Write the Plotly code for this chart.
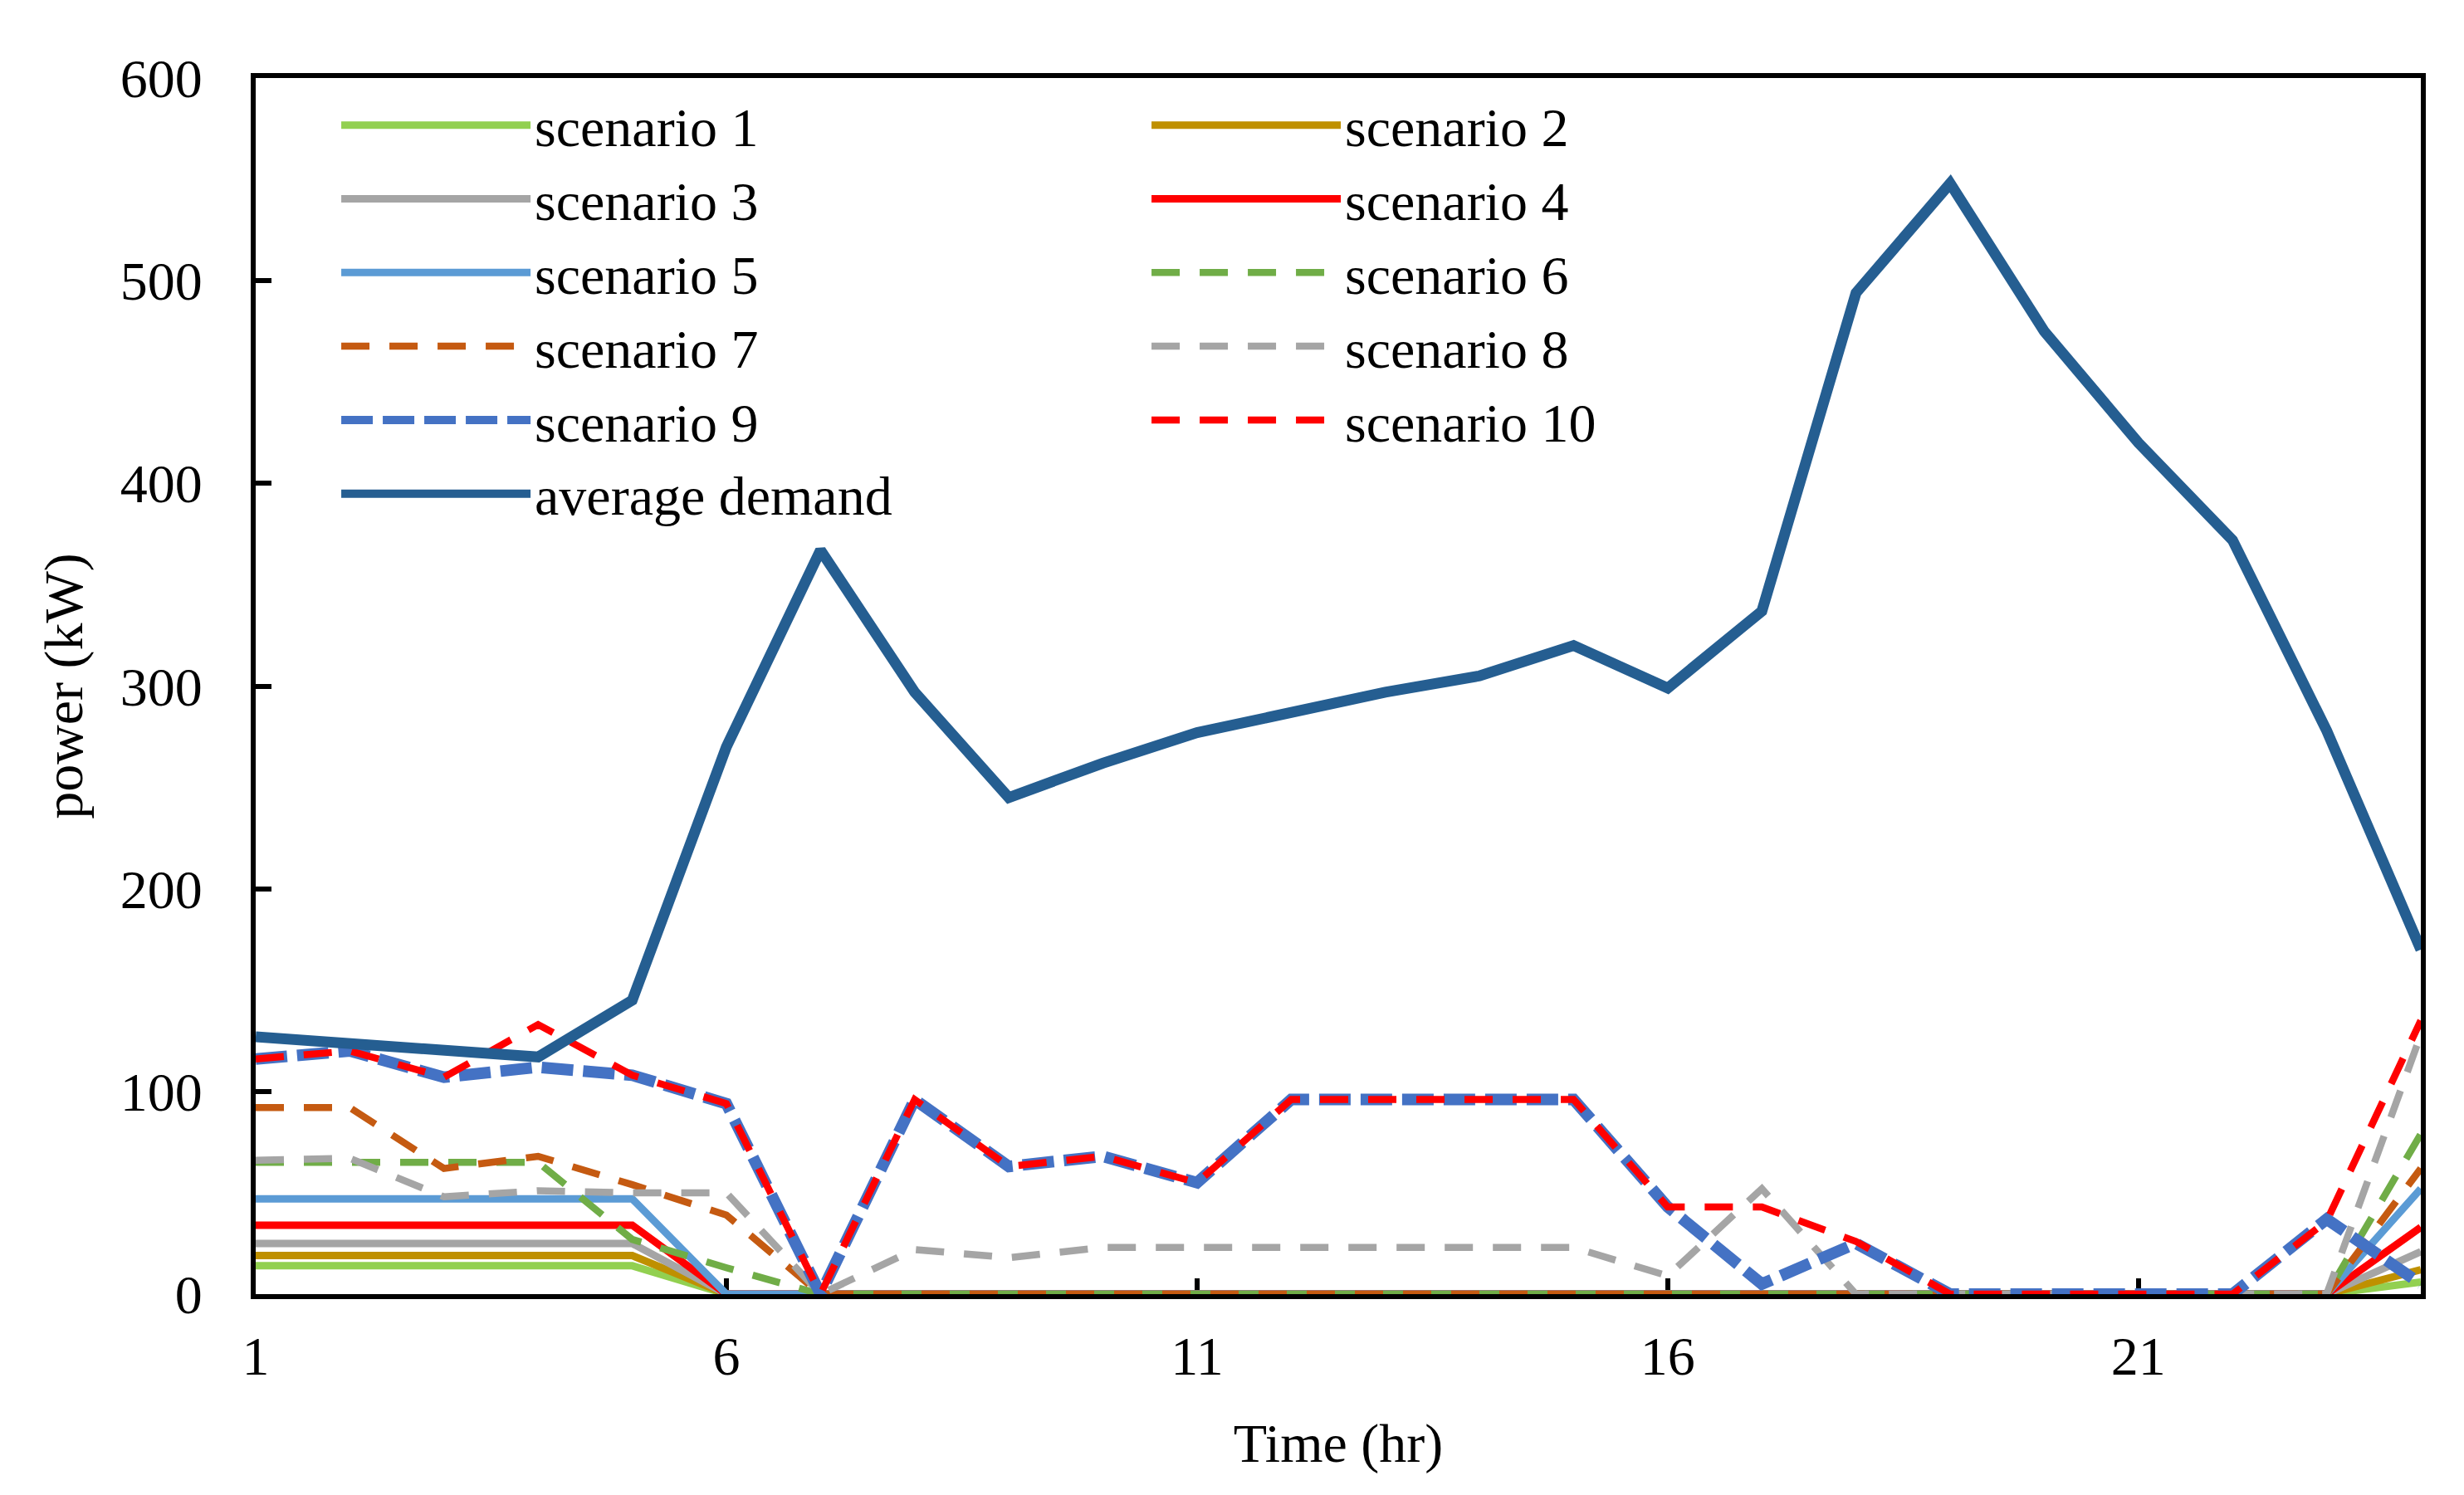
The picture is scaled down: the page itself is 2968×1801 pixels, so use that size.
import plotly.graph_objects as go

hours = [1, 2, 3, 4, 5, 6, 7, 8, 9, 10, 11, 12, 13, 14, 15, 16, 17, 18, 19, 20, 21, 22, 23, 24]

scenario_1 = [14, 14, 14, 14, 14, 0, 0, 0, 0, 0, 0, 0, 0, 0, 0, 0, 0, 0, 0, 0, 0, 0, 0, 6]
scenario_2 = [19, 19, 19, 19, 19, 0, 0, 0, 0, 0, 0, 0, 0, 0, 0, 0, 0, 0, 0, 0, 0, 0, 0, 12]
scenario_3 = [25, 25, 25, 25, 25, 0, 0, 0, 0, 0, 0, 0, 0, 0, 0, 0, 0, 0, 0, 0, 0, 0, 0, 21]
scenario_4 = [34, 34, 34, 34, 34, 0, 0, 0, 0, 0, 0, 0, 0, 0, 0, 0, 0, 0, 0, 0, 0, 0, 0, 33]
scenario_5 = [47, 47, 47, 47, 47, 0, 0, 0, 0, 0, 0, 0, 0, 0, 0, 0, 0, 0, 0, 0, 0, 0, 0, 52]
scenario_6 = [65, 65, 65, 65, 27, 13, 0, 0, 0, 0, 0, 0, 0, 0, 0, 0, 0, 0, 0, 0, 0, 0, 0, 79]
scenario_7 = [92, 92, 62, 68, 54, 39, 0, 0, 0, 0, 0, 0, 0, 0, 0, 0, 0, 0, 0, 0, 0, 0, 0, 62]
scenario_8 = [66, 67, 48, 51, 50, 50, 0, 22, 18, 23, 23, 23, 23, 23, 23, 9, 52, 0, 0, 0, 0, 0, 0, 128]
scenario_9 = [116, 120, 107, 112, 108, 94, 0, 96, 63, 68, 55, 96, 96, 96, 96, 43, 5, 25, 0, 0, 0, 0, 37, 5]
scenario_10 = [116, 120, 107, 133, 108, 94, 0, 96, 63, 68, 55, 96, 96, 96, 96, 43, 43, 26, 0, 0, 0, 0, 36, 135]
average_demand = [127, 124, 120, 117, 145, 270, 367, 297, 245, 262, 277, 287, 297, 305, 320, 299, 337, 494, 548, 475, 420, 372, 278, 170]

x_ticks = [1, 6, 11, 16, 21]
y_ticks = [0, 100, 200, 300, 400, 500, 600]

FONT = "Liberation Serif"
FS = 66

series = [
    ("scenario 1", scenario_1, "#92D050", 9, "solid"),
    ("scenario 2", scenario_2, "#BF9000", 9, "solid"),
    ("scenario 3", scenario_3, "#A5A5A5", 9, "solid"),
    ("scenario 4", scenario_4, "#FF0000", 9, "solid"),
    ("scenario 5", scenario_5, "#5B9BD5", 9, "solid"),
    ("scenario 6", scenario_6, "#70AD47", 8.5, "34px,24px"),
    ("scenario 7", scenario_7, "#C55A11", 8.5, "34px,24px"),
    ("scenario 8", scenario_8, "#A5A5A5", 8.5, "34px,24px"),
    ("scenario 9", scenario_9, "#4472C4", 14, "38px,12px"),
    ("scenario 10", scenario_10, "#FF0000", 8.5, "34px,24px"),
    ("average demand", average_demand, "#255E91", 13, "solid"),
]

fig = go.Figure()
for name, vals, color, width, dash in series:
    fig.add_trace(go.Scatter(
        x=hours, y=vals, mode="lines", name=name,
        line=dict(color=color, width=width, dash=dash),
        cliponaxis=False,
    ))

axis_common = dict(
    showline=True, linecolor="black", linewidth=6, mirror=True,
    ticks="inside", ticklen=19, tickwidth=6, tickcolor="black",
    showgrid=False, zeroline=False, layer="below traces",
    tickfont=dict(family=FONT, size=FS, color="black"),
)

fig.update_layout(
    width=2968, height=1801,
    margin=dict(l=300, r=60, t=86, b=250),
    paper_bgcolor="white", plot_bgcolor="white",
    font=dict(family=FONT, size=FS, color="black"),
    xaxis=dict(range=[1, 24], tickvals=x_ticks, ticklabelstandoff=12,
               title=dict(text="Time (hr)", font=dict(family=FONT, size=FS), standoff=48),
               **axis_common),
    yaxis=dict(range=[0, 600], tickvals=y_ticks, ticklabelstandoff=45,
               title=dict(text="power (kW)", font=dict(family=FONT, size=FS), standoff=26),
               **axis_common),
    legend=dict(
        orientation="h", x=0.0376, y=0.995, xanchor="left", yanchor="top",
        entrywidth=733, entrywidthmode="pixels", itemwidth=228,
        font=dict(family=FONT, size=FS, color="black"),
        bgcolor="rgba(0,0,0,0)", traceorder="normal",
    ),
    showlegend=True,
)

fig.write_html("out.html")
